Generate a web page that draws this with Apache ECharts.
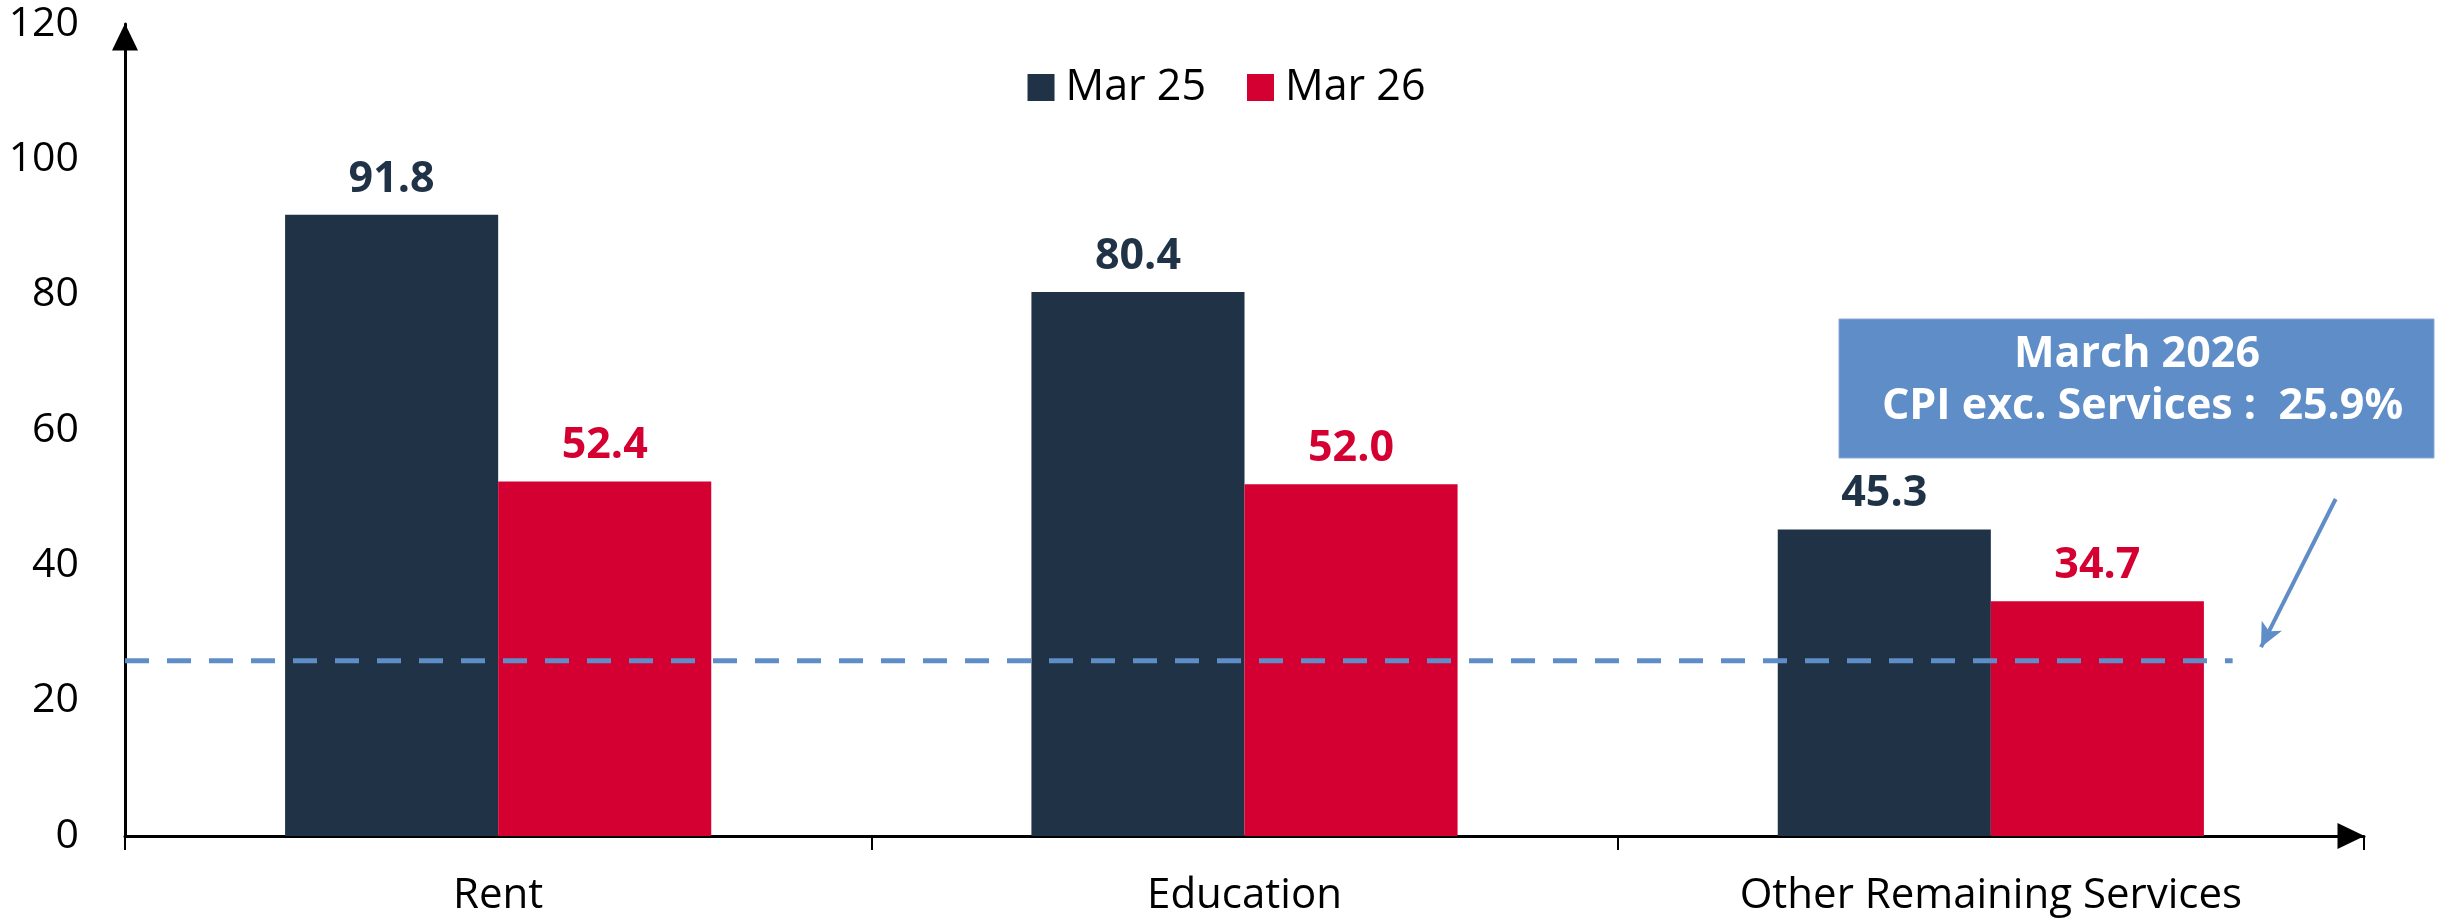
<!DOCTYPE html>
<html>
<head>
<meta charset="utf-8">
<script src="https://cdn.jsdelivr.net/npm/echarts@6/dist/echarts.min.js"></script>
<style>
html,body{margin:0;padding:0;background:#fff;}
#chart{width:2453px;height:924px;}
</style>
</head>
<body>
<div id="chart"></div>
<script>
// ---- data ----
const categories = ['Rent', 'Education', 'Other Remaining Services'];
const seriesNames = ['Mar 25', 'Mar 26'];
const mar25 = [91.8, 80.4, 45.3];
const mar26 = [52.4, 52.0, 34.7];
const yTicks = { min: 0, max: 120, interval: 20 };
const cpiExServices = 25.9;          // reference line value
const refLineX = [0, 2.824];         // extent of dashed line in category units
const arrowFrom = [2.962, 49.8];     // annotation arrow start (category units, value)
const arrowTo = [2.862, 27.9];       // annotation arrow end
const boxLines = ['March 2026', ' CPI exc. Services :  25.9%'];

const NAVY = '#1F3246';
const RED = '#D40032';
const BLUE = '#5F8DC7';
const FONT = '"Open Sans", "Noto Sans", sans-serif';

const chart = echarts.init(document.getElementById('chart'), null, { renderer: 'canvas' });

const barLabel = (color) => ({
  show: true,
  position: 'top',
  distance: 14,
  color: color,
  fontFamily: FONT,
  fontWeight: 'bold',
  fontSize: 43,
  formatter: (p) => p.value.toFixed(1)
});

const option = {
  animation: false,
  backgroundColor: '#fff',
  textStyle: { fontFamily: FONT },
  legend: {
    data: seriesNames,
    top: 61,
    left: 'center',
    icon: 'rect',
    itemWidth: 27,
    itemHeight: 27,
    itemGap: 41,
    textStyle: { fontFamily: FONT, fontSize: 43, color: '#000', padding: [0, 0, 0, 6] }
  },
  grid: { left: 125, right: 89, top: 24, bottom: 88, containLabel: false },
  xAxis: [
    {
      type: 'category',
      data: categories,
      axisLine: {
        show: true,
        lineStyle: { color: '#000', width: 3 },
        symbol: ['none', 'triangle'],
        symbolSize: [26, 27],
        symbolOffset: [0, -13]
      },
      axisTick: { show: true, length: 14, lineStyle: { color: '#000', width: 2 } },
      axisLabel: { fontFamily: FONT, fontSize: 42, color: '#000', margin: 39 },
      splitLine: { show: false }
    },
    {
      type: 'value',
      min: 0,
      max: categories.length,
      show: false,
      splitLine: { show: false }
    }
  ],
  yAxis: {
    type: 'value',
    min: yTicks.min,
    max: yTicks.max,
    interval: yTicks.interval,
    axisLine: {
      show: true,
      lineStyle: { color: '#000', width: 3 },
      symbol: ['none', 'triangle'],
      symbolSize: [26, 27],
      symbolOffset: [0, -13]
    },
    axisTick: { show: false },
    splitLine: { show: false },
    axisLabel: { fontFamily: FONT, fontSize: 41, color: '#000', margin: 46 }
  },
  series: [
    {
      name: seriesNames[0],
      type: 'bar',
      data: mar25,
      barGap: '0%',
      barCategoryGap: '42.9%',
      itemStyle: { color: NAVY },
      label: barLabel(NAVY),
      z: 2
    },
    {
      name: seriesNames[1],
      type: 'bar',
      data: mar26,
      barGap: '0%',
      barCategoryGap: '42.9%',
      itemStyle: { color: RED },
      label: barLabel(RED),
      z: 2
    },
    {
      name: 'CPI exc. Services',
      type: 'line',
      xAxisIndex: 1,
      data: refLineX.map(x => [x, cpiExServices]),
      symbol: 'none',
      lineStyle: { color: BLUE, width: 5, type: [24, 18] },
      silent: true,
      z: 5,
      markLine: {
        silent: true,
        symbol: ['none', 'arrow'],
        symbolSize: [17, 24],
        label: { show: false },
        lineStyle: { color: BLUE, width: 4, type: 'solid' },
        emphasis: { disabled: true },
        data: [[{ coord: arrowFrom }, { coord: arrowTo }]]
      }
    }
  ],
  graphic: [
    {
      type: 'rect',
      shape: { x: 1839, y: 319, width: 595, height: 139 },
      style: { fill: BLUE, stroke: '#86A8D6', lineWidth: 1 },
      z: 10
    },
    {
      type: 'text',
      x: 2137,
      y: 381,
      style: {
        text: boxLines.join('\n'),
        fill: '#fff',
        font: 'bold 43px ' + FONT,
        align: 'center',
        verticalAlign: 'middle',
        lineHeight: 52
      },
      z: 11
    }
  ]
};

chart.setOption(option);
</script>
</body>
</html>
